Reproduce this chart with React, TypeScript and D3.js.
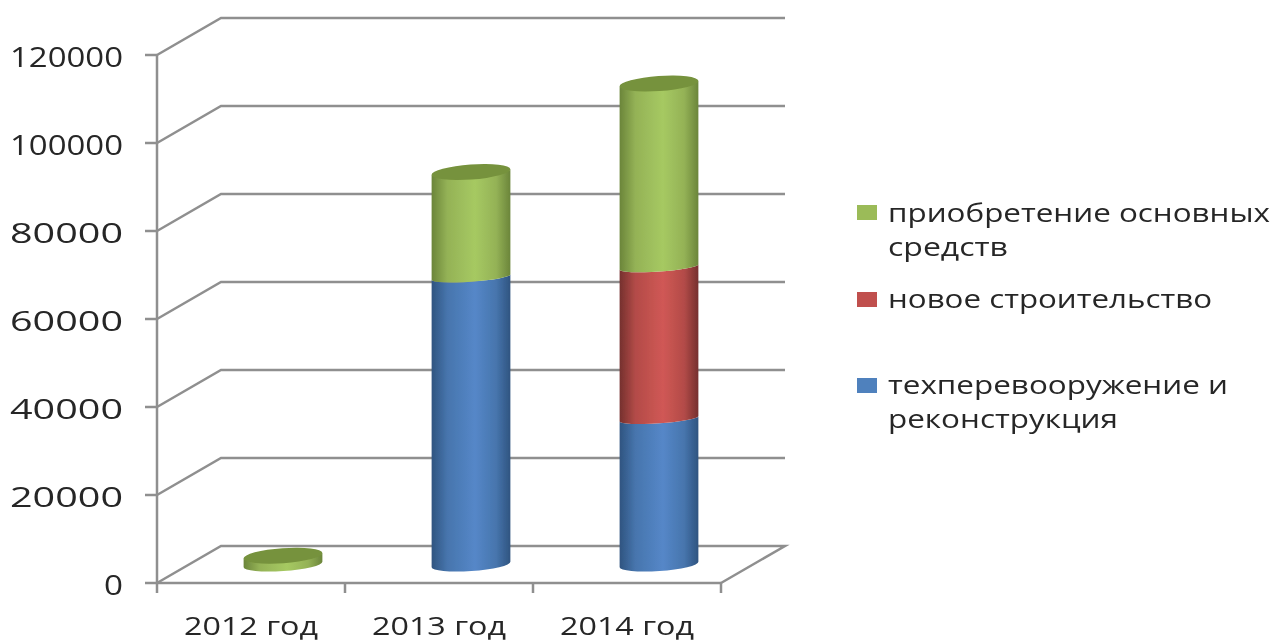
import { scaleBand, scaleLinear, stack } from "d3";

const WIDTH = 1274;
const HEIGHT = 642;
const MARGIN = { top: 55, bottom: 59, left: 157, right: 553 };
const DEPTH = { x: 64, y: 37 };
const TILT = 4;
const CAP_RY = 7.5;
const SEAM_RY = 4.5;
const BASE_RY = 6.5;

const categories = ["2012 год", "2013 год", "2014 год"];
const rebuild = [0, 65300, 33100];
const newBuild = [0, 0, 34500];
const purchase = [2000, 23900, 41700];
const seriesKeys = ["rebuild", "newBuild", "purchase"];
const yTicks = [0, 20000, 40000, 60000, 80000, 100000, 120000];

const tickWidths = [19, 113, 113, 113, 113, 113, 113];
const categoryWidths = [134, 134, 134];

const palette: Record<string, { dark: string; mid: string; bright: string; cap: string; swatch: string }> = {
  rebuild: { dark: "#2f5480", mid: "#4775ad", bright: "#5587c8", cap: "#3a679e", swatch: "#4f81bd" },
  newBuild: { dark: "#75302e", mid: "#b34b48", bright: "#d05855", cap: "#953d3b", swatch: "#c0504d" },
  purchase: { dark: "#6b853a", mid: "#94b256", bright: "#a6c962", cap: "#76923c", swatch: "#9bbb59" }
};

const legend = [
  { key: "purchase", lines: ["приобретение основных", "средств"], widths: [382, 120], y: 205, baseline: 222 },
  { key: "newBuild", lines: ["новое строительство"], widths: [324], y: 292, baseline: 308 },
  { key: "rebuild", lines: ["техперевооружение и", "реконструкция"], widths: [340, 230], y: 378, baseline: 394 }
];

const rows = categories.map((category, index) => ({
  category,
  rebuild: rebuild[index],
  newBuild: newBuild[index],
  purchase: purchase[index]
}));

const FONT = "'Open Sans', 'DejaVu Sans', sans-serif";
const TEXT_COLOR = "#262626";
const LINE_COLOR = "#8f8f8f";

export default function App() {
  const x = scaleBand<string>()
    .domain(categories)
    .range([MARGIN.left, WIDTH - MARGIN.right])
    .paddingInner(0.58)
    .paddingOuter(0.29);
  const y = scaleLinear().domain([0, 120000]).range([HEIGHT - MARGIN.bottom, MARGIN.top]);

  const layers = stack<any>().keys(seriesKeys)(rows);
  const right = WIDTH - MARGIN.right;
  const bottom = y(0);
  const rx = x.bandwidth() / 2;
  const dx = rx * Math.cos((TILT * Math.PI) / 180);
  const dy = rx * Math.sin((TILT * Math.PI) / 180);

  // one cylinder piece: top edge and bottom edge both bow towards the viewer
  const segment = (cx: number, top: number, base: number, topRy: number, baseRy: number) =>
    `M${cx - dx} ${top + dy} A${rx} ${topRy} ${-TILT} 0 0 ${cx + dx} ${top - dy} ` +
    `L${cx + dx} ${base - dy} A${rx} ${baseRy} ${-TILT} 0 1 ${cx - dx} ${base + dy} Z`;

  const tickXs = [...categories.map((c) => (x(c) as number) - (x.step() - x.bandwidth()) / 2), right];

  return (
    <svg
      width={WIDTH}
      height={HEIGHT}
      viewBox={`0 0 ${WIDTH} ${HEIGHT}`}
      style={{ position: "absolute", left: 0, top: 0, background: "#fff" }}
    >
      <defs>
        {seriesKeys.map((key) => (
          <linearGradient key={key} id={`cyl-${key}`} x1="0" x2="1" y1="0" y2="0">
            <stop offset="0%" stopColor={palette[key].dark} />
            <stop offset="20%" stopColor={palette[key].mid} />
            <stop offset="55%" stopColor={palette[key].bright} />
            <stop offset="82%" stopColor={palette[key].mid} />
            <stop offset="100%" stopColor={palette[key].dark} />
          </linearGradient>
        ))}
        <filter id="soft" x="-2%" y="-2%" width="104%" height="104%">
          <feGaussianBlur stdDeviation="0.7" />
        </filter>
      </defs>

      <g filter="url(#soft)">
        {yTicks.map((tick) => (
          <g key={tick} stroke={LINE_COLOR} strokeWidth="2.5" fill="none">
            <path
              d={
                tick === 0
                  ? `M${MARGIN.left} ${y(tick)} L${MARGIN.left + DEPTH.x} ${y(tick) - DEPTH.y} L${right + DEPTH.x} ${y(tick) - DEPTH.y} L${right} ${y(tick)}`
                  : `M${MARGIN.left} ${y(tick)} L${MARGIN.left + DEPTH.x} ${y(tick) - DEPTH.y} L${right + DEPTH.x} ${y(tick) - DEPTH.y}`
              }
            />
            <line x1={MARGIN.left - 12} x2={MARGIN.left} y1={y(tick)} y2={y(tick)} />
          </g>
        ))}
        <g stroke={LINE_COLOR} strokeWidth="2.5">
          <line x1={MARGIN.left} x2={MARGIN.left} y1={y(120000)} y2={bottom} />
          <line x1={MARGIN.left} x2={right} y1={bottom} y2={bottom} />
          {tickXs.map((tx) => (
            <line key={tx} x1={tx} x2={tx} y1={bottom} y2={bottom + 10} />
          ))}
        </g>

        {rows.map((row) => {
          const cx = (x(row.category) as number) + rx + DEPTH.x / 2;
          const shift = DEPTH.y / 2;
          const parts = layers
            .map((layer) => ({ key: layer.key, span: layer.find((d) => d.data.category === row.category) as any }))
            .filter((part) => part.span[1] > part.span[0]);
          const last = parts[parts.length - 1];
          return (
            <g key={row.category}>
              {parts.map((part, index) => (
                <path
                  key={part.key}
                  d={segment(
                    cx,
                    y(part.span[1]) - shift,
                    y(part.span[0]) - shift,
                    SEAM_RY,
                    index === 0 ? BASE_RY : SEAM_RY
                  )}
                  fill={`url(#cyl-${part.key})`}
                />
              ))}
              <ellipse
                cx={cx}
                cy={y(last.span[1]) - shift}
                rx={rx}
                ry={CAP_RY}
                fill={palette[last.key].cap}
                transform={`rotate(${-TILT} ${cx} ${y(last.span[1]) - shift})`}
              />
            </g>
          );
        })}

        <g fontFamily={FONT} fill={TEXT_COLOR}>
          {yTicks.map((tick, index) => (
            <text
              key={tick}
              x={123}
              y={y(tick) + 12}
              fontSize="27"
              textAnchor="end"
              textLength={tickWidths[index]}
              lengthAdjust="spacingAndGlyphs"
            >
              {tick}
            </text>
          ))}
          {categories.map((category, index) => (
            <text
              key={category}
              x={(x(category) as number) + rx}
              y={635}
              fontSize="25"
              textAnchor="middle"
              textLength={categoryWidths[index]}
              lengthAdjust="spacingAndGlyphs"
            >
              {category}
            </text>
          ))}
          {legend.map((item) => (
            <g key={item.key}>
              <rect x={857} y={item.y} width={20} height={15} fill={palette[item.key].swatch} />
              {item.lines.map((text, lineIndex) => (
                <text
                  key={text}
                  x={888}
                  y={item.baseline + lineIndex * 34}
                  fontSize="26"
                  textLength={item.widths[lineIndex]}
                  lengthAdjust="spacingAndGlyphs"
                >
                  {text}
                </text>
              ))}
            </g>
          ))}
        </g>
      </g>
    </svg>
  );
}
